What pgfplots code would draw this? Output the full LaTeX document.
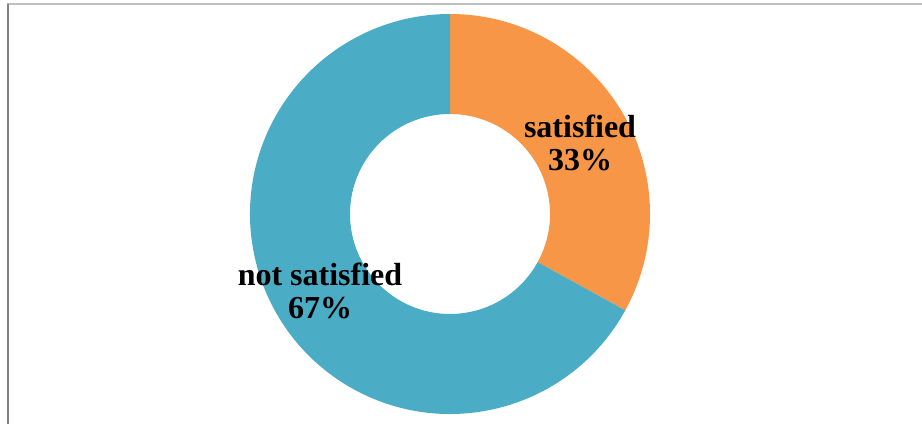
\documentclass[border=0pt]{standalone}
\usepackage{pgfplots}
\pgfplotsset{compat=1.18}
\usepackage{pgfplotstable}
\usepackage{fontspec}
\setmainfont{Liberation Serif}
\definecolor{sliceA}{HTML}{F79646}
\definecolor{sliceB}{HTML}{4BACC6}
\pgfplotstableread{
label value
satisfied 33
notsatisfied 67
}\piedata
\pgfplotstablegetelem{0}{value}\of\piedata \let\vA\pgfplotsretval
\pgfplotstablegetelem{1}{value}\of\piedata \let\vB\pgfplotsretval
\begin{document}
\begin{tikzpicture}
\begin{axis}[
  at={(0,0)}, anchor=south west,
  scale only axis, width=922bp, height=424bp,
  xmin=0, xmax=922, ymin=0, ymax=424,
  axis lines=none, ticks=none, clip=false,
]
\pgfmathsetmacro{\aStart}{90}
\pgfmathsetmacro{\aMid}{90-3.6*\vA}
\pgfmathsetmacro{\aEnd}{\aMid-3.6*\vB}
\path (axis cs:450,210) coordinate (C);
\fill[sliceA, shift={(C)}] (\aStart:200bp) arc[start angle=\aStart, end angle=\aMid, radius=200bp]
   -- (\aMid:100bp) arc[start angle=\aMid, end angle=\aStart, radius=100bp] -- cycle;
\fill[sliceB, shift={(C)}] (\aMid:200bp) arc[start angle=\aMid, end angle=\aEnd, radius=200bp]
   -- (\aEnd:100bp) arc[start angle=\aEnd, end angle=\aMid, radius=100bp] -- cycle;
\draw[color=black!25, line width=1.2bp] (axis cs:7,420) -- (axis cs:922,420);
\draw[color=black!50, line width=2bp] (axis cs:8,420) -- (axis cs:8,0);
\node[align=center, font=\fontsize{32bp}{33bp}\selectfont\bfseries] at (axis cs:580,281) {satisfied\\33\%};
\node[align=center, font=\fontsize{32bp}{33bp}\selectfont\bfseries] at (axis cs:320,133) {not satisfied\\67\%};
\end{axis}
\pgfresetboundingbox
\useasboundingbox (0,0) rectangle (922bp,424bp);
\end{tikzpicture}
\end{document}
